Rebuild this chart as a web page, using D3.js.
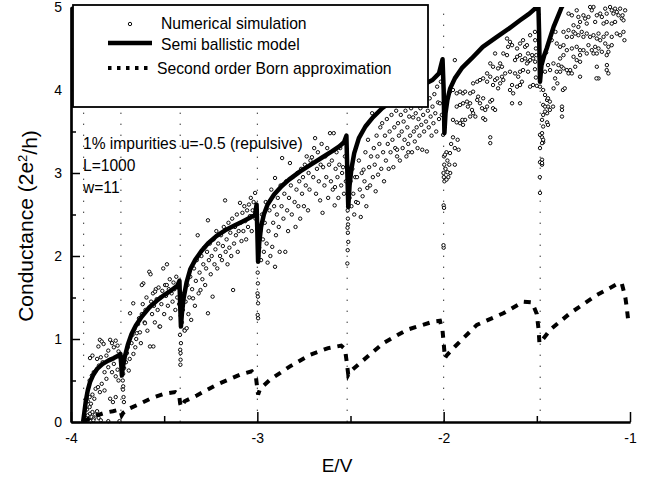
<!DOCTYPE html>
<html><head><meta charset="utf-8">
<script src="https://cdn.jsdelivr.net/npm/d3@7"></script>
<style>
body{margin:0;background:#fff}
svg{display:block}
text{font-family:"Liberation Sans",Arial,Helvetica,sans-serif;fill:#000}
</style>
</head><body>
<svg id="chart" width="657" height="480"></svg>
<script>
// ---------- data ----------
const xMajorTicks = [-4, -3, -2, -1];
const xMinorTicks = [-3.5, -2.5, -1.5];
const yMajorTicks = [0, 1, 2, 3, 4, 5];
const yMinorTicks = [0.5, 1.5, 2.5, 3.5, 4.5];
const thresholds = [-3.932, -3.732, -3.414, -3.0, -2.518, -2.0, -1.482];

const legendLabels = ["Numerical simulation", "Semi ballistic model", "Second order Born approximation"];
const noteLines = ["1% impurities u=-0.5 (repulsive)", "L=1000", "w=11"];
const xTitle = "E/V";
const yTitle = "Conductance (2e";

const semiBallistic = [
[-3.935,0],[-3.928,0.12],[-3.92,0.26],[-3.91,0.38],[-3.898,0.48],[-3.88,0.57],[-3.86,0.64],[-3.83,0.7],[-3.8,0.74],[-3.77,0.77],[-3.745,0.8],[-3.735,0.82],
[-3.73,0.68],[-3.727,0.56],[-3.722,0.66],[-3.712,0.78],[-3.695,0.93],[-3.675,1.06],[-3.65,1.17],[-3.62,1.27],[-3.58,1.38],[-3.54,1.46],[-3.5,1.53],[-3.46,1.59],[-3.43,1.64],[-3.418,1.7],
[-3.414,1.4],[-3.41,1.15],[-3.405,1.3],[-3.395,1.5],[-3.38,1.68],[-3.36,1.84],[-3.334,1.95],[-3.3,2.06],[-3.265,2.15],[-3.22,2.24],[-3.173,2.31],[-3.12,2.37],[-3.084,2.41],[-3.04,2.46],[-3.012,2.5],[-3.004,2.62],
[-3.0,2.3],[-2.996,1.93],[-2.99,2.15],[-2.98,2.35],[-2.965,2.5],[-2.945,2.62],[-2.91,2.74],[-2.87,2.84],[-2.83,2.92],[-2.77,3.02],[-2.7,3.12],[-2.65,3.19],[-2.6,3.26],[-2.56,3.32],[-2.535,3.37],[-2.522,3.45],
[-2.518,3.1],[-2.512,2.59],[-2.505,2.85],[-2.495,3.05],[-2.48,3.24],[-2.455,3.42],[-2.42,3.56],[-2.38,3.67],[-2.33,3.78],[-2.27,3.88],[-2.2,3.97],[-2.13,4.04],[-2.06,4.12],[-2.025,4.2],[-2.006,4.37],
[-2.0,4.0],[-1.996,3.48],[-1.99,3.72],[-1.98,3.88],[-1.965,4.02],[-1.94,4.14],[-1.9,4.27],[-1.85,4.38],[-1.79,4.52],[-1.72,4.63],[-1.65,4.74],[-1.59,4.84],[-1.54,4.92],[-1.5,5.0],[-1.492,5.05],
[-1.488,4.7],[-1.483,4.1],[-1.475,4.3],[-1.46,4.42],[-1.447,4.5],[-1.43,4.62],[-1.41,4.76],[-1.39,4.87],[-1.366,5.0],[-1.34,5.1]
];

const bornApprox = [
[-3.932,0],[-3.9,0.05],[-3.86,0.08],[-3.82,0.11],[-3.775,0.13],[-3.74,0.15],[-3.733,0.12],[-3.728,0.08],[-3.72,0.11],[-3.69,0.16],[-3.63,0.22],[-3.565,0.29],[-3.5,0.34],[-3.44,0.36],[-3.42,0.33],
[-3.414,0.22],[-3.408,0.18],[-3.39,0.25],[-3.325,0.32],[-3.218,0.45],[-3.093,0.57],[-3.03,0.61],[-3.008,0.55],[-3.0,0.4],[-2.996,0.33],[-2.985,0.4],[-2.932,0.51],[-2.825,0.67],[-2.717,0.81],[-2.62,0.89],[-2.55,0.92],
[-2.53,0.88],[-2.52,0.72],[-2.512,0.57],[-2.505,0.6],[-2.449,0.71],[-2.324,0.95],[-2.198,1.11],[-2.055,1.21],[-2.02,1.22],[-2.006,1.1],[-2.0,0.95],[-1.993,0.77],[-1.985,0.8],[-1.939,0.91],[-1.822,1.17],[-1.68,1.31],
[-1.572,1.45],[-1.525,1.44],[-1.5,1.3],[-1.49,1.1],[-1.486,0.95],[-1.48,0.96],[-1.429,1.11],[-1.322,1.31],[-1.178,1.53],[-1.062,1.67],[-1.044,1.67],[-1.025,1.5],[-1.018,1.39],[-1.009,1.21]
];

const simPoints = [
// first sub-band
[-3.925,0.02],[-3.918,0.05],[-3.91,0.08],[-3.905,0.03],[-3.898,0.1],[-3.89,0.06],[-3.885,0.12],[-3.878,0.04],[-3.87,0.09],[-3.86,0.13],[-3.915,0.15],[-3.9,0.18],[-3.852,0.05],[-3.84,0.02],[-3.8,0.01],[-3.74,0.01],[-3.895,0.01],[-3.88,0.02],
[-3.91,0.25],[-3.9,0.3],[-3.893,0.22],[-3.885,0.33],[-3.875,0.28],[-3.868,0.4],[-3.855,0.42],[-3.845,0.36],[-3.835,0.46],[-3.82,0.38],[-3.79,0.28],[-3.775,0.24],[-3.76,0.3],
[-3.9,0.5],[-3.888,0.56],[-3.878,0.6],[-3.865,0.62],[-3.85,0.68],[-3.84,0.78],[-3.83,0.72],[-3.82,0.6],[-3.81,0.52],[-3.8,0.66],[-3.79,0.75],[-3.78,0.6],[-3.77,0.7],[-3.76,0.55],[-3.75,0.63],[-3.745,0.5],[-3.86,0.76],[-3.81,0.8],
[-3.898,0.77],[-3.885,0.8],[-3.853,0.91],[-3.845,0.99],[-3.835,0.97],[-3.825,0.94],[-3.79,0.99],[-3.78,0.95],[-3.77,0.9],[-3.76,0.98],[-3.75,0.92],[-3.745,0.85],[-3.8,0.86],
// second sub-band
[-3.722,0.5],[-3.72,0.43],[-3.721,0.39],[-3.718,0.3],[-3.716,0.24],[-3.72,0.58],[-3.715,0.65],
[-3.705,0.72],[-3.7,0.83],[-3.695,0.9],[-3.69,0.62],[-3.685,0.76],
[-3.675,0.95],[-3.67,1.05],[-3.665,0.82],[-3.66,1.12],[-3.655,0.9],[-3.65,1.0],[-3.666,1.43],[-3.683,1.31],[-3.647,1.07],
[-3.64,1.18],[-3.635,1.25],[-3.63,1.08],[-3.625,0.95],[-3.62,1.3],[-3.615,1.42],[-3.612,1.67],[-3.605,1.2],[-3.6,1.35],[-3.595,1.5],[-3.59,1.1],[-3.62,1.65],[-3.603,1.19],
[-3.58,1.81],[-3.576,0.91],[-3.573,1.78],[-3.57,1.45],[-3.565,1.3],[-3.56,1.55],[-3.555,1.4],[-3.55,1.2],[-3.545,1.6],[-3.54,1.48],[-3.535,1.35],[-3.53,1.62],[-3.525,1.15],[-3.52,1.5],[-3.558,0.91],[-3.549,1.57],[-3.522,1.15],
[-3.515,1.42],[-3.51,1.58],[-3.505,1.85],[-3.5,1.3],[-3.495,1.65],[-3.49,1.52],[-3.485,1.9],[-3.48,1.4],[-3.475,1.6],[-3.47,1.72],[-3.465,1.25],[-3.46,1.55],[-3.455,1.45],[-3.45,1.68],[-3.445,1.6],[-3.44,1.35],[-3.435,1.75],[-3.43,1.5],[-3.425,1.62],[-3.42,1.42],[-3.486,1.65],
[-3.414,0.87],[-3.412,0.75],[-3.413,0.69],[-3.41,0.95],[-3.415,1.05],[-3.411,1.28],[-3.412,0.83],[-3.39,1.11],
// third sub-band
[-3.405,1.2],[-3.4,1.35],[-3.395,1.55],[-3.39,1.1],[-3.385,1.45],[-3.379,1.13],[-3.375,1.65],[-3.37,1.3],[-3.365,1.5],[-3.36,1.75],[-3.355,1.23],[-3.35,1.6],[-3.345,1.49],[-3.34,1.85],[-3.335,1.4],[-3.33,1.7],
[-3.325,1.95],[-3.32,2.25],[-3.315,1.55],[-3.31,1.8],[-3.305,1.59],[-3.3,2.0],[-3.295,1.72],[-3.29,1.9],[-3.285,2.1],[-3.28,1.65],[-3.275,1.85],[-3.27,2.05],[-3.265,1.31],[-3.265,2.43],[-3.26,1.95],[-3.255,2.15],
[-3.25,1.78],[-3.245,2.0],[-3.24,1.51],[-3.235,2.2],[-3.23,1.9],[-3.225,2.08],[-3.22,2.3],[-3.215,1.85],[-3.21,2.15],[-3.2,2.0],[-3.195,2.25],[-3.19,1.95],[-3.185,2.12],[-3.18,2.35],[-3.173,2.67],[-3.17,2.05],
[-3.165,2.2],[-3.16,1.9],[-3.155,2.4],[-3.15,2.1],[-3.145,2.28],[-3.14,2.0],[-3.135,2.45],[-3.13,1.59],[-3.125,2.15],[-3.12,2.35],[-3.115,2.25],[-3.11,2.5],[-3.105,2.05],[-3.1,2.3],[-3.093,2.64],[-3.09,2.4],
[-3.085,2.18],[-3.08,2.52],[-3.075,2.3],[-3.07,2.6],[-3.065,2.42],[-3.06,2.2],[-3.055,2.55],[-3.05,2.35],[-3.045,2.62],[-3.04,2.48],[-3.035,2.7],[-3.03,2.3],[-3.025,2.55],[-3.02,2.65],[-3.012,2.76],[-3.01,2.45],
[-2.998,1.8],[-2.997,1.67],[-2.996,1.43],[-2.998,1.29],[-2.996,1.25],[-2.999,1.55],[-2.995,2.0],[-2.997,1.51],
// fourth sub-band
[-2.99,2.1],[-2.985,2.3],[-2.98,1.95],[-2.975,2.5],[-2.97,2.2],[-2.965,2.05],[-2.96,2.4],[-2.955,2.65],[-2.95,2.15],[-2.945,1.92],[-2.94,2.3],[-2.935,2.55],[-2.93,2.0],[-2.925,2.8],[-2.92,2.11],[-2.915,2.4],
[-2.91,2.6],[-2.905,1.87],[-2.905,2.94],[-2.9,2.25],[-2.895,2.5],[-2.89,2.7],[-2.885,2.35],[-2.88,2.05],[-2.875,2.85],[-2.87,2.6],[-2.867,3.18],[-2.86,2.45],[-2.855,2.75],[-2.85,2.05],[-2.845,2.9],[-2.84,2.55],
[-2.835,2.3],[-2.83,2.7],[-2.825,3.12],[-2.82,2.85],[-2.815,2.5],[-2.81,2.95],[-2.8,2.65],[-2.795,2.35],[-2.79,2.8],[-2.785,3.0],[-2.78,2.6],[-2.775,2.9],[-2.77,2.45],[-2.765,3.05],[-2.76,2.75],[-2.755,2.95],
[-2.75,2.6],[-2.745,3.1],[-2.74,2.85],[-2.735,3.2],[-2.728,2.55],[-2.725,3.0],[-2.72,2.8],[-2.715,3.15],[-2.707,3.19],[-2.7,2.95],[-2.695,3.3],[-2.69,3.42],[-2.685,2.75],[-2.68,3.05],[-2.675,3.25],[-2.67,2.9],
[-2.663,2.67],[-2.66,3.1],[-2.655,3.35],[-2.65,2.52],[-2.647,3.07],[-2.64,2.85],[-2.635,3.2],[-2.63,2.95],[-2.625,3.3],[-2.62,2.7],[-2.615,3.1],[-2.61,3.48],[-2.605,2.9],[-2.6,3.15],[-2.595,2.8],[-2.59,3.48],
[-2.585,2.61],[-2.583,2.83],[-2.58,3.05],[-2.575,3.25],[-2.57,2.95],[-2.565,2.7],[-2.56,3.1],[-2.555,3.3],[-2.55,2.85],[-2.545,3.0],[-2.54,3.07],[-2.535,2.75],[-2.53,3.2],[-2.525,2.9],
[-2.515,2.55],[-2.514,2.45],[-2.513,2.38],[-2.516,2.34],[-2.512,2.17],[-2.515,2.07],[-2.517,1.91],[-2.514,2.28],[-2.513,2.6],
// fifth sub-band
[-2.505,2.7],[-2.5,2.9],[-2.495,2.6],[-2.49,3.05],[-2.485,2.75],[-2.48,2.5],[-2.475,2.95],[-2.47,2.65],[-2.465,2.95],[-2.46,2.64],[-2.455,3.15],[-2.45,2.8],[-2.445,2.47],[-2.44,3.0],[-2.435,2.72],[-2.43,3.04],
[-2.425,2.9],[-2.42,3.25],[-2.415,2.6],[-2.41,2.82],[-2.406,3.4],[-2.4,3.07],[-2.395,2.85],[-2.39,3.2],[-2.384,3.72],[-2.38,2.95],[-2.375,3.3],[-2.37,3.1],[-2.365,2.78],[-2.36,3.45],[-2.355,3.2],[-2.352,2.98],
[-2.345,3.35],[-2.34,3.55],[-2.335,3.05],[-2.33,3.6],[-2.325,3.25],[-2.32,2.9],[-2.315,3.45],[-2.31,3.15],[-2.305,3.65],[-2.3,3.35],[-2.295,3.05],[-2.29,3.5],[-2.285,3.25],[-2.28,3.7],[-2.275,3.4],[-2.27,3.07],
[-2.265,3.55],[-2.26,3.3],[-2.255,3.75],[-2.25,3.28],[-2.245,3.6],[-2.24,3.45],[-2.235,3.15],[-2.23,3.7],[-2.225,3.5],[-2.22,3.3],[-2.215,3.62],[-2.21,3.4],[-2.205,3.75],[-2.2,3.2],[-2.195,3.55],[-2.19,3.35],
[-2.185,3.68],[-2.18,3.45],[-2.175,3.78],[-2.17,3.25],[-2.164,3.67],[-2.16,3.5],[-2.155,3.38],[-2.15,3.72],[-2.145,3.55],[-2.14,3.3],[-2.135,3.65],[-2.13,3.45],[-2.125,3.78],[-2.12,3.58],[-2.115,3.28],[-2.11,3.7],
[-2.105,3.5],[-2.1,3.85],[-2.095,3.62],[-2.09,3.26],[-2.085,3.75],[-2.08,3.55],[-2.075,3.9],[-2.07,3.68],[-2.065,3.45],[-2.06,3.8],[-2.055,3.6],[-2.05,3.95],[-2.045,3.72],[-2.04,3.5],[-2.035,4.04],[-2.03,3.85],
[-2.025,3.65],[-2.02,3.84],[-2.015,4.1],[-2.01,3.7],[-2.19,3.25],[-2.25,3.2],
[-2.003,3.46],[-1.998,3.2],[-1.997,3.1],[-1.999,2.95],[-2.001,3.0],[-1.996,2.9],[-2.0,2.61],[-1.998,2.58],[-2.0,2.1],[-2.001,2.13],
[-1.95,3.43],[-1.96,3.35],[-1.94,3.3],[-1.92,3.28],[-1.925,3.4],[-1.985,3.25],[-1.99,3.05],[-1.98,3.15],[-1.975,2.95],[-1.97,3.1],[-1.965,3.0],[-1.993,3.22],[-1.966,3.24],[-1.98,3.01],[-1.94,3.1],[-1.985,2.92],
// sixth sub-band
[-1.94,4.36],[-1.966,3.98],[-1.95,4.0],[-1.93,3.96],[-1.912,3.98],[-1.896,3.96],[-1.885,3.98],[-1.858,3.96],[-1.842,3.98],
[-1.93,3.8],[-1.912,3.82],[-1.896,3.84],[-1.875,3.86],[-1.858,3.84],[-1.87,3.8],[-1.848,3.76],[-1.842,3.72],[-1.858,3.68],[-1.83,3.68],
[-1.95,3.64],[-1.93,3.61],[-1.912,3.6],[-1.896,3.58],[-1.885,3.64],[-1.9,3.64],
[-1.82,3.88],[-1.815,3.92],[-1.805,3.84],[-1.788,3.9],[-1.794,3.78],[-1.777,3.76],[-1.767,3.8],[-1.75,3.86],[-1.74,3.88],[-1.735,3.78],[-1.724,3.76],[-1.788,3.66],[-1.777,3.64],
[-1.842,4.08],[-1.82,4.1],[-1.805,4.12],[-1.788,4.14],[-1.767,4.1],[-1.75,4.16],[-1.724,4.12],[-1.713,4.14],[-1.735,4.06],[-1.708,4.02],[-1.697,4.08],[-1.687,4.16],[-1.68,4.12],
[-1.767,4.2],[-1.735,4.28],[-1.708,4.26],[-1.687,4.28],[-1.67,4.2],[-1.644,4.22],[-1.617,4.2],[-1.59,4.22],[-1.574,4.24],[-1.547,4.22],
[-1.6,4.16],[-1.58,4.1],[-1.633,4.06],[-1.644,4.0],[-1.627,3.96],[-1.606,4.04],[-1.59,4.06],[-1.536,4.04],[-1.52,4.06],[-1.633,3.84],[-1.59,3.84],[-1.75,3.43],[-1.75,3.36],
[-1.724,4.44],[-1.68,4.44],[-1.66,4.42],[-1.654,4.52],[-1.644,4.58],[-1.66,4.62],[-1.633,4.54],[-1.606,4.5],[-1.59,4.56],[-1.574,4.6],[-1.563,4.52],[-1.553,4.54],[-1.547,4.44],[-1.525,4.42],
[-1.59,4.42],[-1.563,4.38],[-1.547,4.34],[-1.536,4.36],[-1.52,4.38],[-1.509,4.34],[-1.553,4.32],[-1.536,4.66],[-1.509,4.6],[-1.606,4.4],[-1.617,4.36],[-1.58,4.36],[-1.75,4.32],[-1.697,4.32],
[-1.51,4.7],[-1.505,4.5],[-1.51,4.25],[-1.505,4.15],[-1.5,4.05],[-1.503,4.42],
[-1.483,4.04],[-1.466,4.0],[-1.456,3.94],[-1.445,3.88],[-1.466,3.82],[-1.44,3.8],[-1.43,3.76],[-1.445,3.72],[-1.466,3.7],[-1.472,3.64],[-1.483,3.46],[-1.472,3.43],[-1.466,3.37],[-1.472,3.16],[-1.483,3.13],[-1.472,3.1],[-1.483,2.76],
[-1.44,3.9],[-1.43,3.86],[-1.456,3.8],[-1.413,3.8],[-1.456,3.74],[-1.365,3.8],[-1.365,3.76],[-1.365,3.68],[-1.445,3.61],[-1.44,3.58],[-1.466,3.56],[-1.472,3.48],[-1.466,3.4],[-1.472,3.36],[-1.483,3.3],[-1.472,3.12],[-1.484,2.95],
[-1.402,4.14],[-1.41,4.02],[-1.36,4.0],[-1.39,4.08],
// seventh sub-band
[-1.33,4.92],[-1.312,4.9],[-1.286,4.96],[-1.277,4.88],[-1.25,4.9],[-1.241,4.86],[-1.223,4.88],[-1.205,4.96],[-1.196,5.0],[-1.178,4.9],[-1.16,4.92],[-1.151,4.88],[-1.133,4.98],[-1.125,4.92],[-1.107,5.0],[-1.098,4.96],
[-1.089,4.92],[-1.08,4.98],[-1.071,4.94],[-1.062,4.9],[-1.053,4.98],[-1.044,4.86],[-1.035,4.84],[-1.026,4.96],[-1.268,4.82],[-1.232,4.8],[-1.187,4.82],[-1.142,4.8],[-1.125,4.82],[-1.098,4.8],[-1.08,4.82],[-1.214,5.0],
[-1.303,4.78],[-1.277,4.76],[-1.33,4.72],[-1.303,4.7],
[-1.357,4.7],[-1.339,4.64],[-1.312,4.64],[-1.294,4.68],[-1.277,4.66],[-1.259,4.7],[-1.25,4.64],[-1.232,4.68],[-1.214,4.64],[-1.196,4.66],[-1.178,4.62],[-1.169,4.68],[-1.16,4.6],[-1.142,4.64],[-1.125,4.68],[-1.098,4.64],
[-1.071,4.68],[-1.053,4.66],[-1.035,4.7],[-1.03,4.6],
[-1.393,4.56],[-1.375,4.52],[-1.357,4.54],[-1.339,4.48],[-1.312,4.5],[-1.286,4.52],[-1.268,4.48],[-1.25,4.48],[-1.223,4.54],[-1.205,4.48],[-1.187,4.52],[-1.169,4.5],[-1.151,4.46],[-1.133,4.56],[-1.116,4.52],[-1.098,4.54],
[-1.232,4.44],[-1.196,4.44],[-1.178,4.44],[-1.268,4.42],[-1.303,4.4],[-1.357,4.42],[-1.375,4.38],[-1.286,4.36],[-1.268,4.34],[-1.125,4.42],[-1.116,4.46],
[-1.384,4.3],[-1.366,4.28],[-1.357,4.26],[-1.339,4.24],[-1.33,4.2],[-1.321,4.24],[-1.312,4.2],[-1.294,4.28],[-1.375,4.22],[-1.393,4.22],[-1.411,4.32],[-1.429,4.24],[-1.268,4.16],[-1.178,4.28],[-1.125,4.24],[-1.116,4.2],
[-1.169,4.14],[-1.456,4.22],[-1.18,4.14],[-1.124,4.3],[-1.35,4.02],[-1.04,4.9],[-1.45,4.45],[-1.42,4.6],[-1.4,4.7],[-1.44,4.3]
];

// ---------- layout ----------
const svg = d3.select("#chart");
const x = d3.scaleLinear().domain([-4, -1]).range([71, 630]);
const y = d3.scaleLinear().domain([0, 5]).range([422, 7]);

svg.append("defs").append("clipPath").attr("id", "plotclip")
  .append("rect").attr("x", x(-4)).attr("y", y(5)).attr("width", x(-1) - x(-4)).attr("height", y(0) - y(5));

// dotted threshold lines
svg.append("g").selectAll("line").data(thresholds).join("line")
  .attr("x1", d => x(d)).attr("x2", d => x(d))
  .attr("y1", y(0)).attr("y2", y(5))
  .attr("stroke", "#333").attr("stroke-width", 1).attr("stroke-dasharray", "1.4,9.6");

// scatter
svg.append("g").selectAll("circle").data(simPoints).join("circle")
  .attr("cx", d => x(d[0])).attr("cy", d => y(d[1])).attr("r", 1.7)
  .attr("fill", "#fff").attr("stroke", "#000").attr("stroke-width", 0.95);

const line = d3.line().x(d => x(d[0])).y(d => y(d[1]));
const curves = svg.append("g").attr("clip-path", "url(#plotclip)");
curves.append("path").datum(bornApprox).attr("d", line)
  .attr("fill", "none").attr("stroke", "#000").attr("stroke-width", 4)
  .attr("stroke-dasharray", "7,7");
curves.append("path").datum(semiBallistic).attr("d", line)
  .attr("fill", "none").attr("stroke", "#000").attr("stroke-width", 4.5)
  .attr("stroke-linejoin", "round");

// axes
const fmt = d => String(d);
function styleAxis(g) {
  g.select(".domain").attr("stroke-width", 2.2);
  g.selectAll(".tick line").attr("stroke-width", 1.5);
  g.selectAll("text").style("font-size", "14px").attr("fill", "#000");
}
svg.append("g").attr("transform", `translate(0,${y(0)})`)
  .call(d3.axisBottom(x).tickValues(xMinorTicks).tickSize(-6).tickSizeOuter(0).tickFormat(""))
  .call(styleAxis);
svg.append("g").attr("transform", `translate(0,${y(0)})`)
  .call(d3.axisBottom(x).tickValues(xMajorTicks).tickSize(-10).tickSizeOuter(0).tickPadding(11).tickFormat(fmt))
  .call(styleAxis);
svg.append("g").attr("transform", `translate(${x(-4)},0)`)
  .call(d3.axisLeft(y).tickValues(yMinorTicks).tickSize(-5).tickSizeOuter(0).tickFormat(""))
  .call(styleAxis);
svg.append("g").attr("transform", `translate(${x(-4)},0)`)
  .call(d3.axisLeft(y).tickValues(yMajorTicks).tickSize(-9).tickSizeOuter(0).tickPadding(9).tickFormat(fmt))
  .call(styleAxis);

// axis titles
svg.append("text").attr("x", 337).attr("y", 472).attr("text-anchor", "middle")
  .style("font-size", "19px").text(xTitle);
const yt = svg.append("text").attr("transform", "translate(33,226) rotate(-90)")
  .attr("text-anchor", "middle").style("font-size", "21px");
yt.append("tspan").text(yTitle);
yt.append("tspan").attr("dy", "-0.45em").style("font-size", "13px").text("2");
yt.append("tspan").attr("dy", "0.45em").text("/h)");

// legend box
const lg = svg.append("g");
lg.append("rect").attr("x", 73).attr("y", 5).attr("width", 355).attr("height", 102)
  .attr("fill", "#fff").attr("stroke", "#000").attr("stroke-width", 1.8);
lg.append("circle").attr("cx", 130).attr("cy", 24).attr("r", 1.7)
  .attr("fill", "#fff").attr("stroke", "#000").attr("stroke-width", 0.95);
lg.append("line").attr("x1", 108).attr("x2", 152).attr("y1", 43).attr("y2", 43)
  .attr("stroke", "#000").attr("stroke-width", 4.5);
lg.append("line").attr("x1", 108).attr("x2", 152).attr("y1", 68).attr("y2", 68)
  .attr("stroke", "#000").attr("stroke-width", 4).attr("stroke-dasharray", "3.5,5.5");
const lx = [161, 161, 157], ly = [29, 50, 74];
lg.selectAll("text.lab").data(legendLabels).join("text").attr("class", "lab")
  .attr("x", (d, i) => lx[i]).attr("y", (d, i) => ly[i])
  .style("font-size", "15.7px").text(d => d);

// annotation
svg.append("g").selectAll("text").data(noteLines).join("text")
  .attr("x", 83).attr("y", (d, i) => 149 + i * 22)
  .style("font-size", "15.6px").text(d => d);
</script>
</body></html>
